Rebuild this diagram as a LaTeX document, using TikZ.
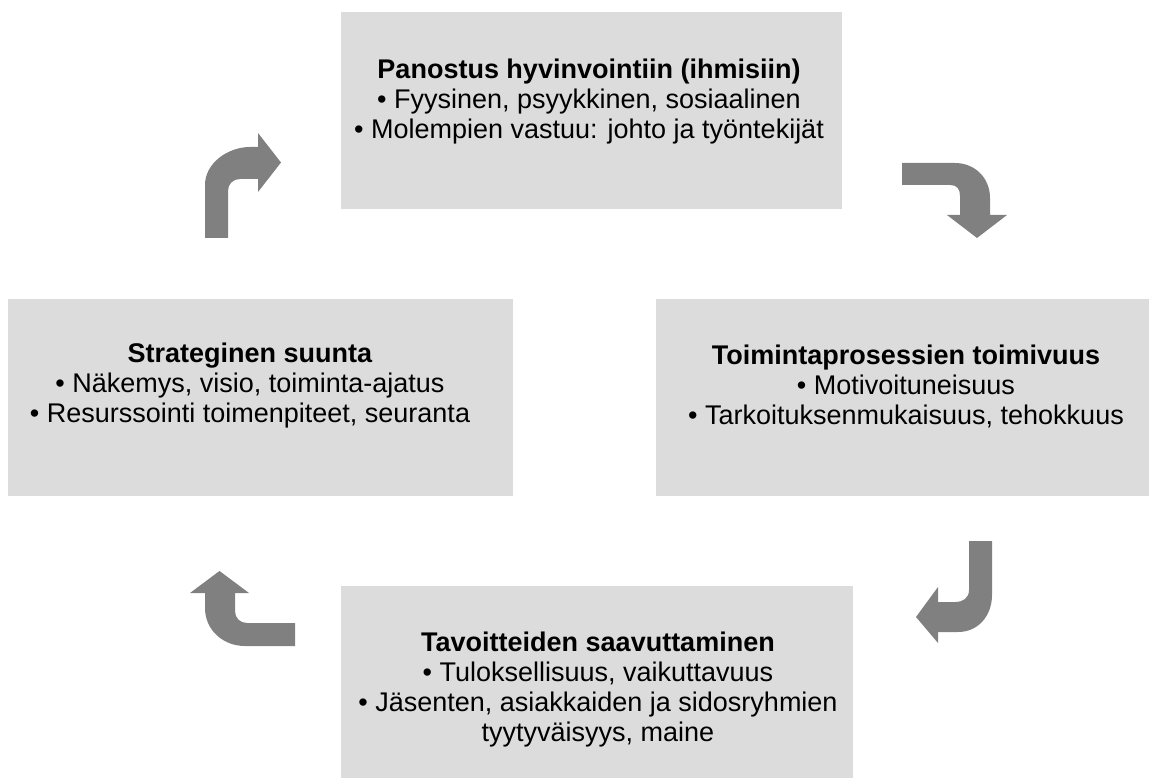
\documentclass[tikz,border=0pt]{standalone}
\usepackage{fontspec}
\setmainfont{Liberation Sans}
\usepackage{tikz}
\definecolor{panelgray}{RGB}{220,220,220}
\definecolor{arrowgray}{RGB}{128,128,128}

\begin{document}
\begin{tikzpicture}[x=1pt,y=-1pt,
  panel/.style={fill=panelgray, inner sep=0pt},
  txt/.style={align=center, inner sep=0pt, font=\fontsize{27}{30}\selectfont},
  bentarrow/.style={fill=arrowgray}]
  \useasboundingbox (0,0) rectangle (1149,778);
  % the four panels
  \node[panel, minimum width=501pt, minimum height=197pt] (panostusbox) at (591.5,110.5) {};
  \node[panel, minimum width=493pt, minimum height=197pt] (toimintabox) at (902.5,397.5) {};
  \node[panel, minimum width=512pt, minimum height=192pt] (tavoitebox) at (597,682) {};
  \node[panel, minimum width=505pt, minimum height=197pt] (strategiabox) at (260.5,397.5) {};
  % texts
  \node[txt] (panostus) at (589,101.5) {\textbf{Panostus hyvinvointiin (ihmisiin)}\\
    • Fyysinen, psyykkinen, sosiaalinen\\
    • Molempien vastuu: johto ja työntekijät};
  \node[txt] (toiminta) at (906,386) {\textbf{Toimintaprosessien toimivuus}\\
    • Motivoituneisuus\\
    • Tarkoituksenmukaisuus, tehokkuus};
  \node[txt] (tavoite) at (598,690) {\textbf{Tavoitteiden saavuttaminen}\\
    • Tuloksellisuus, vaikuttavuus\\
    • Jäsenten, asiakkaiden ja sidosryhmien\\
    tyytyväisyys, maine};
  \node[txt] (strategia) at (250,386) {\textbf{Strateginen suunta}\\
    • Näkemys, visio, toiminta-ajatus\\
    • Resurssointi toimenpiteet, seuranta};
  % bent arrows
  \fill[bentarrow] (205,238) -- (205,185) .. controls (205,163) and (228,147) .. (250,147)
    -- (258,147) -- (258,133) -- (281,162.5) -- (258,192) -- (258,179) -- (240,179)
    .. controls (233,179) and (228,184) .. (228,191) -- (228,238) -- cycle;
  \fill[bentarrow] (902,163) -- (955,163) .. controls (975,163) and (990,178) .. (990,198)
    -- (990,215) -- (1007,215) -- (977,238) -- (947,215) -- (960,215) -- (960,196)
    .. controls (960,189) and (957,185) .. (950,185) -- (902,185) -- cycle;
  \fill[bentarrow] (969,541) -- (992,541) -- (992,595) .. controls (992,616) and (978,632) .. (958,632)
    -- (938,632) -- (938,643) -- (916,617) -- (938,587) -- (938,602) -- (955,602)
    .. controls (963,602) and (969,598) .. (969,590) -- cycle;
  \fill[bentarrow] (295,623) -- (295,646) -- (245,646) .. controls (223,646) and (205,630) .. (205,608)
    -- (205,593) -- (190,593) -- (219.5,571) -- (249,593) -- (235,593) -- (235,611)
    .. controls (235,618) and (240,623) .. (247,623) -- cycle;
\end{tikzpicture}
\end{document}
